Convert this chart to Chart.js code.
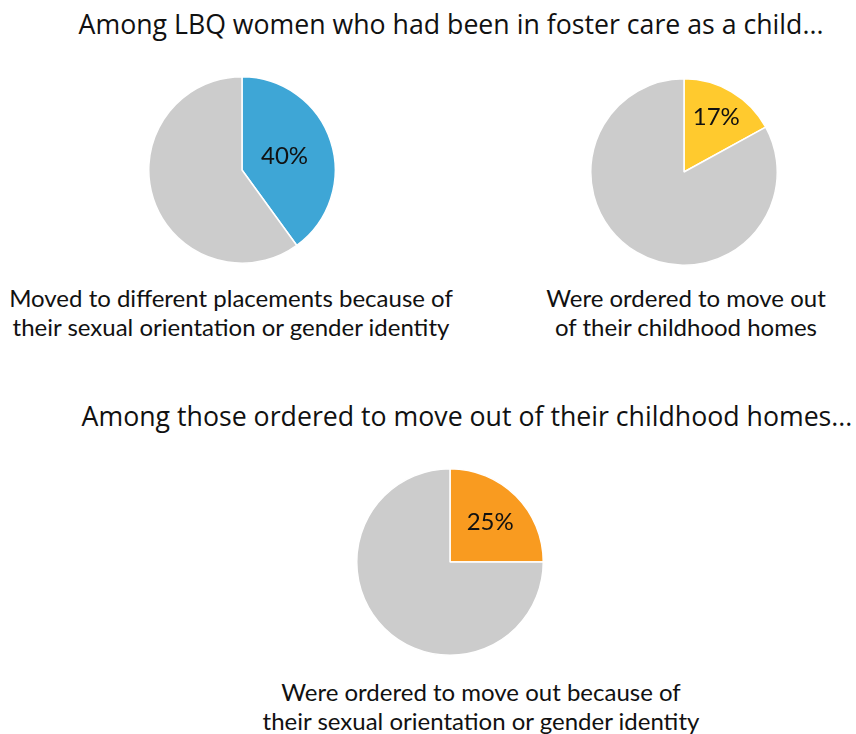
<!DOCTYPE html>
<html>
<head>
<meta charset="utf-8">
<script src="https://cdn.jsdelivr.net/npm/chart.js@4"></script>
<style>
  body { margin: 0; background: #fff; }
  #page { position: relative; width: 856px; height: 734px; overflow: hidden; }
  .title { position: absolute; font-family: "Open Sans", sans-serif; font-size: 26.7px; line-height: 34px; color: #111; white-space: nowrap; transform: translateX(-50%); }
  .caption { position: absolute; font-family: Lato, sans-serif; font-size: 24px; line-height: 29px; color: #111; text-align: center; white-space: nowrap; transform: translateX(-50%); }
  .pie { position: absolute; width: 188px; height: 188px; }
</style>
</head>
<body>
<div id="page">
  <div class="title" style="left:451px; top:7px;">Among LBQ women who had been in foster care as a child...</div>
  <div class="title" style="left:467px; top:399px;">Among those ordered to move out of their childhood homes...</div>

  <div class="pie" style="left:148px; top:76px;"><canvas id="pie1"></canvas></div>
  <div class="pie" style="left:590px; top:78px;"><canvas id="pie2"></canvas></div>
  <div class="pie" style="left:356px; top:468px;"><canvas id="pie3"></canvas></div>

  <div class="caption" id="cap1" style="left:231px; top:283px;"></div>
  <div class="caption" id="cap2" style="left:686px; top:283px;"></div>
  <div class="caption" id="cap3" style="left:481px; top:677px;"></div>
</div>

<script>
// Data
let shares = [40, 17, 25];
let pctLabels = ["40%", "17%", "25%"];
let sliceColors = ["#3ea6d6", "#ffca2e", "#f99b20"];
let restColor = "#cccccc";
let captions = [
    ["Moved to different placements because of", "their sexual orientation or gender identity"],
    ["Were ordered to move out", "of their childhood homes"],
    ["Were ordered to move out because of", "their sexual orientation or gender identity"]
];
// how far out from the centre the % label sits (fraction of radius)
let labelPos = [0.48, 0.68, 0.61];

// Label inside the coloured slice
const pctLabel = {
    id: "pctLabel",
    afterDatasetsDraw(chart, args, opts) {
        let arc = chart.getDatasetMeta(0).data[0];
        let mid = (arc.startAngle + arc.endAngle) / 2;
        let r = arc.outerRadius * opts.pos;
        let ctx = chart.ctx;
        ctx.save();
        ctx.font = "24px Lato";
        ctx.fillStyle = "#111";
        ctx.textAlign = "center";
        ctx.textBaseline = "middle";
        ctx.fillText(opts.text, arc.x + Math.cos(mid) * r, arc.y + Math.sin(mid) * r);
        ctx.restore();
    }
};

function drawPie(id, i) {
    new Chart(document.getElementById(id), {
        type: "pie",
        data: {
            labels: ["yes", "no"],
            datasets: [{
                data: [shares[i], 100 - shares[i]],
                backgroundColor: [sliceColors[i], restColor],
                borderColor: "#fff",
                borderWidth: 1.5
            }]
        },
        options: {
            responsive: true,
            maintainAspectRatio: false,
            animation: false,
            events: [],
            plugins: {
                legend: { display: false },
                tooltip: { enabled: false },
                pctLabel: { text: pctLabels[i], pos: labelPos[i] }
            }
        },
        plugins: [pctLabel]
    });
    document.getElementById("cap" + (i + 1)).innerHTML = captions[i].join("<br>");
}

drawPie("pie1", 0);
drawPie("pie2", 1);
drawPie("pie3", 2);
</script>
</body>
</html>
